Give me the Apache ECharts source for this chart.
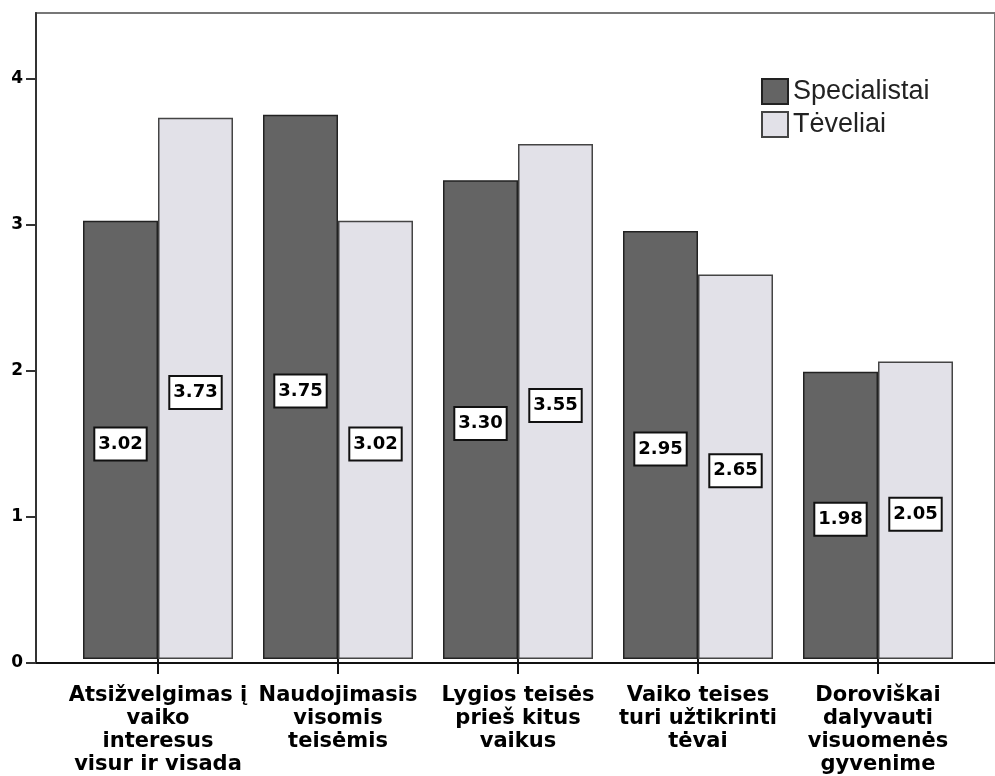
<!DOCTYPE html>
<html>
<head>
<meta charset="utf-8">
<script src="https://cdn.jsdelivr.net/npm/echarts@6/dist/echarts.min.js"></script>
<style>
  html, body { margin: 0; padding: 0; background: #fff; }
  #chart { width: 995px; height: 776px; }
</style>
</head>
<body>
<div id="chart"></div>
<script>
// categories and values
const categories = [
  'Atsižvelgimas į\nvaiko\ninteresus\nvisur ir visada',
  'Naudojimasis\nvisomis\nteisėmis',
  'Lygios teisės\nprieš kitus\nvaikus',
  'Vaiko teises\nturi užtikrinti\ntėvai',
  'Doroviškai\ndalyvauti\nvisuomenės\ngyvenime'
]
const specialistai = [3.02, 3.75, 3.30, 2.95, 1.98]
const teveliai = [3.73, 3.02, 3.55, 2.65, 2.05]
const yTicks = [0, 1, 2, 3, 4]
const yMax = 4.452

const chart = echarts.init(document.getElementById('chart'))

const valueLabel = {
  show: true,
  position: 'inside',
  offset: [0, 4],
  formatter: p => p.value.toFixed(2),
  fontFamily: 'DejaVu Sans',
  fontWeight: 'bold',
  fontSize: 18,
  color: '#000',
  backgroundColor: '#fff',
  borderColor: '#111',
  borderWidth: 2,
  padding: [7, 3, 6, 3]
}

const option = {
  animation: false,
  grid: [
    // frame: left axis, top border, base line
    { left: 36, right: -3, top: 13, height: 650, show: true, borderColor: '#777', borderWidth: 2, backgroundColor: 'transparent' },
    // bars
    { left: 68, right: 27, top: 13, height: 650 }
  ],
  legend: {
    orient: 'vertical',
    left: 761,
    top: 78,
    padding: 0,
    itemWidth: 26,
    itemHeight: 25,
    itemGap: 6,
    icon: 'rect',
    textStyle: { fontFamily: 'Liberation Sans', fontSize: 27, lineHeight: 25, color: '#222' },
    data: ['Specialistai', 'Tėveliai']
  },
  xAxis: [
    {
      gridIndex: 0, type: 'value', min: 0, max: 1,
      axisLine: { show: true, onZero: false, lineStyle: { color: '#111', width: 2 } },
      axisTick: { show: false }, axisLabel: { show: false }, splitLine: { show: false }
    },
    {
      gridIndex: 1, type: 'category', data: categories,
      axisLine: { show: false },
      axisTick: { show: true, alignWithLabel: true, length: 15, lineStyle: { color: '#111', width: 2 } },
      axisLabel: {
        margin: 25,
        interval: 0,
        fontFamily: 'DejaVu Sans',
        fontWeight: 'bold',
        fontSize: 21,
        lineHeight: 23,
        color: '#000'
      }
    }
  ],
  yAxis: [
    {
      gridIndex: 0, type: 'value', min: 0, max: yMax, interval: 1,
      axisLine: { show: true, lineStyle: { color: '#333', width: 2 } },
      axisTick: { show: true, length: 10, customValues: yTicks, lineStyle: { color: '#333', width: 2 } },
      axisLabel: {
        margin: 13,
        customValues: yTicks,
        fontFamily: 'DejaVu Sans', fontWeight: 'bold', fontSize: 17, color: '#000'
      },
      splitLine: { show: false }
    },
    {
      gridIndex: 1, type: 'value', min: 0, max: yMax,
      show: false
    }
  ],
  series: [
    {
      name: 'Specialistai',
      type: 'bar',
      xAxisIndex: 1,
      yAxisIndex: 1,
      data: specialistai,
      barWidth: 75,
      barGap: '0%',
      itemStyle: { color: '#646464', borderColor: '#222', borderWidth: 1.5 },
      label: valueLabel
    },
    {
      name: 'Tėveliai',
      type: 'bar',
      xAxisIndex: 1,
      yAxisIndex: 1,
      data: teveliai,
      barWidth: 75,
      barGap: '0%',
      itemStyle: { color: '#e2e1e8', borderColor: '#444', borderWidth: 1.5 },
      label: valueLabel
    }
  ]
}

chart.setOption(option)
</script>
</body>
</html>
